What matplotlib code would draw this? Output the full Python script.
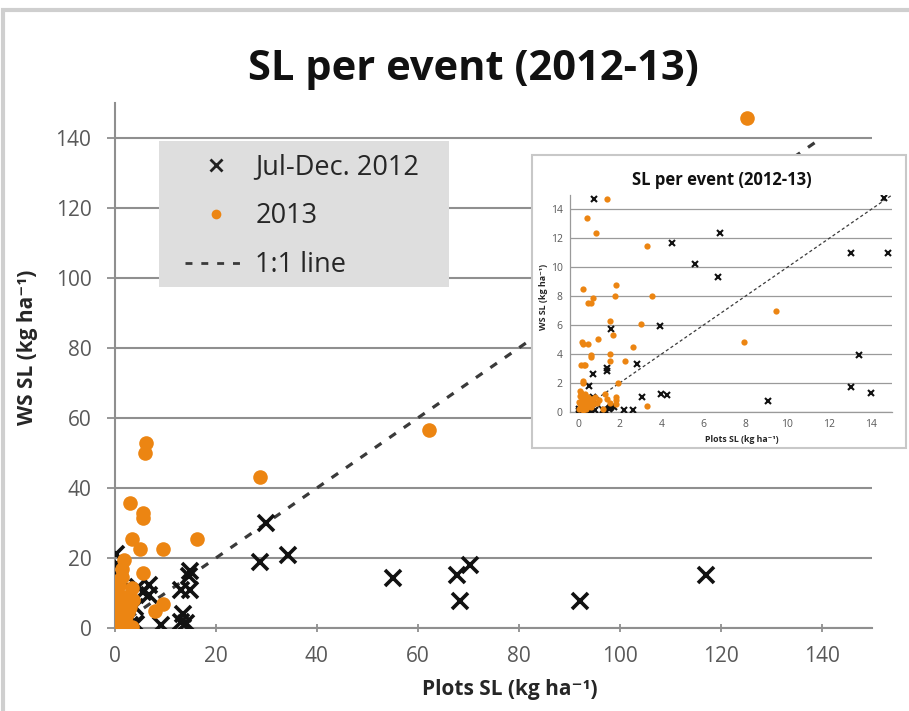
import matplotlib.pyplot as plt
from matplotlib.lines import Line2D
from matplotlib.patches import Rectangle

plt.rcParams['font.family'] = ['Open Sans', 'DejaVu Sans']

# Sediment load per event: plots (x) vs watershed (y), kg/ha
x_2012 = [117.2, 92.1, 68.3, 67.7, 70.3, 55.0, 34.3, 29.9, 28.7, 14.9, 0.2, 0.4,
          0.75, 14.6, 6.8, 4.5, 5.6, 6.7, 13.05, 14.8, 3.9, 1.6, 13.4, 2.8, 1.4, 1.4,
          0.7, 0.55, 13.05, 14.0, 3.95, 4.25, 3.05, 9.1, 0.7, 0.6, 0.9, 2.2, 2.65,
          1.6, 1.55, 1.5, 1.7, 1.2, 1.3, 0.05, 0.1, 0.15, 0.2, 0.3, 0.4, 0.5, 0.6,
          0.8, 0.05, 0.1, 0.25, 0.35]
y_2012 = [15.1, 7.7, 7.7, 15.1, 18.0, 14.3, 20.9, 30.0, 18.9, 16.3, 21.2, 18.3,
          14.7, 14.8, 12.4, 11.7, 10.2, 9.3, 11.0, 11.0, 5.9, 5.7, 3.9, 3.3, 3.0, 2.85,
          2.6, 1.8, 1.7, 1.3, 1.2, 1.15, 1.0, 0.75, 1.0, 0.8, 0.5, 0.1, 0.1,
          0.3, 0.25, 0.2, 0.35, 0.15, 0.1, 0.05, 0.1, 0.05, 0.15, 0.05, 0.1, 0.2, 0.05,
          0.15, 0.2, 0.0, 0.3, 0.2]

x_2013 = [125.3, 62.2, 28.7, 6.1, 6.0, 3.0, 5.5, 5.5, 3.4, 5.0, 9.5, 16.3, 1.8, 1.4,
          5.5, 1.4, 0.45, 0.85, 3.3, 0.25, 1.8, 0.7, 1.75, 3.55, 0.5, 0.6, 1.55, 3.0,
          1.65, 0.95, 0.2, 0.25, 0.5, 7.95, 9.45, 2.65, 1.55, 0.6, 0.6, 0.15, 0.3,
          0.35, 1.55, 2.25, 0.25, 0.25, 1.9, 1.3, 1.4, 3.3, 1.8, 1.8, 1.8, 1.55, 1.2,
          1.0, 0.9, 0.1, 0.15, 0.1, 0.2, 0.3, 0.5, 0.6, 0.7, 0.8, 0.4, 0.2, 0.1, 0.3,
          0.5, 0.6, 0.15, 0.05, 0.25, 0.4, 0.7, 0.35, 0.2, 0.05, 0.45, 0.55]
y_2013 = [145.7, 56.6, 43.1, 52.9, 50.0, 35.6, 32.8, 31.5, 25.3, 22.5, 22.5, 25.3, 19.4,
          17.0, 15.7, 14.7, 13.4, 12.4, 11.5, 8.5, 8.8, 7.9, 8.0, 8.0, 7.5, 7.5, 6.3, 6.1,
          5.3, 5.0, 4.8, 4.7, 4.7, 4.8, 7.0, 4.5, 4.0, 3.9, 3.8, 3.2, 3.2,
          3.2, 3.5, 3.5, 2.1, 2.0, 2.0, 1.2, 0.9, 0.4, 1.0, 0.8, 0.5, 0.6, 0.2,
          0.8, 0.6, 1.4, 1.3, 1.1, 0.9, 0.9, 1.0, 0.9, 0.9, 1.0, 0.7, 0.6, 0.5, 0.4,
          0.5, 0.3, 0.3, 0.2, 0.15, 0.2, 0.5, 1.2, 1.0, 0.7, 0.35, 0.7]

main_ticks = [0, 20, 40, 60, 80, 100, 120, 140]
inset_ticks = [0, 2, 4, 6, 8, 10, 12, 14]

ORANGE = '#EC8512'
GRID = '#8f8f8f'
TICKC = '#595959'
W, H = 909, 711


def px_box(x0, y0, x1, y1):
    return [x0 / W, 1 - y1 / H, (x1 - x0) / W, (y1 - y0) / H]


fig = plt.figure(figsize=(W / 100, H / 100), dpi=100)

# light outer frame of the chart area
fig.patches.append(Rectangle((3 / W, -0.05), 1.2, 1.05 - 10 / H, transform=fig.transFigure,
                             fill=False, edgecolor='#cfcfcf', lw=3, zorder=0))

# ---- main chart ----
ax = fig.add_axes(px_box(115, 103, 872, 628), zorder=1)
ax.set_xlim(0, 150)
ax.set_ylim(0, 150)
ax.set_xticks(main_ticks)
ax.set_yticks(main_ticks)
ax.tick_params(axis='y', direction='out', length=6, width=1.3, color=GRID,
               labelsize=15, labelcolor=TICKC, pad=11)
ax.tick_params(axis='x', direction='inout', length=6, width=1.3, color=GRID,
               labelsize=15, labelcolor=TICKC, pad=10)
for s in ['top', 'right']:
    ax.spines[s].set_visible(False)
for s in ['left', 'bottom']:
    ax.spines[s].set_color(GRID)
    ax.spines[s].set_linewidth(1.5)
ax.yaxis.grid(True, color=GRID, lw=1.5)
ax.set_axisbelow(True)

ax.plot([0, 140], [0, 140], ls=(0, (2.5, 3)), color='#3a3a3a', lw=2.3, zorder=2)
ax.plot(x_2012, y_2012, ls='none', marker='x', ms=11, mew=2.6, color='#111111', zorder=3)
ax.plot(x_2013, y_2013, ls='none', marker='o', ms=10.5, mew=0, color=ORANGE, zorder=4)

# legend: grey panel with the three entries on top of it
ax.add_artist(Rectangle((159 / W, 1 - 287 / H), (449 - 159) / W, (287 - 141) / H,
                        transform=fig.transFigure, facecolor='#dedede',
                        edgecolor='none', zorder=1))
handles = [
    Line2D([], [], ls='none', marker='x', ms=8, mew=2, color='#222222'),
    Line2D([], [], ls='none', marker='o', ms=7, mew=0, color=ORANGE),
    Line2D([], [], ls=(0, (2.5, 3.2)), lw=2, color='#3a3a3a'),
]
leg = ax.legend(handles, ['Jul-Dec. 2012', '2013', '1:1 line'],
                loc='upper left', bbox_to_anchor=(185 / W, 1 - 153 / H),
                bbox_transform=fig.transFigure, borderaxespad=0, borderpad=0,
                fontsize=19.5, frameon=False,
                handlelength=2.3, handletextpad=0.3, labelspacing=0.78)
for t in leg.get_texts():
    t.set_color('#262626')

fig.text(473 / W, 1 - 70 / H, 'SL per event (2012-13)', ha='center', va='center',
         fontsize=30, fontweight='bold', color='#111111')
fig.text(510 / W, 1 - 690 / H, 'Plots SL (kg ha⁻¹)', ha='center', va='center',
         fontsize=15, fontweight='bold', color='#262626')
fig.text(28 / W, 1 - 347 / H, 'WS SL (kg ha⁻¹)', ha='center', va='center',
         rotation=90, fontsize=15, fontweight='bold', color='#262626')

# ---- zoomed inset for the 0-15 range ----
fig.patches.append(Rectangle((532 / W, 1 - 448 / H), (906 - 532) / W, (448 - 155) / H,
                             transform=fig.transFigure, facecolor='white',
                             edgecolor='#c8c8c8', lw=1.5, zorder=2))
ins = fig.add_axes(px_box(569.6, 195, 892, 411.7), zorder=3)
ins.patch.set_alpha(0)
ins.set_xlim(-0.4, 15.0)
ins.set_ylim(0, 15)
ins.set_xticks(inset_ticks)
ins.set_yticks(inset_ticks)
ins.tick_params(length=0, labelsize=7.5, labelcolor=TICKC, pad=5)
for s in ['top', 'right']:
    ins.spines[s].set_visible(False)
for s in ['left', 'bottom']:
    ins.spines[s].set_color('#9a9a9a')
    ins.spines[s].set_linewidth(0.9)
ins.yaxis.grid(True, color='#9a9a9a', lw=0.9)
ins.set_axisbelow(True)

ins.plot([0, 15], [0, 15], ls=(0, (2.5, 2)), color='#3a3a3a', lw=0.9, zorder=2)
ins.plot(x_2012, y_2012, ls='none', marker='x', ms=5, mew=1.5, color='#111111', zorder=3)
ins.plot(x_2013, y_2013, ls='none', marker='o', ms=4.5, mew=0, color=ORANGE, zorder=4)

fig.text(722 / W, 1 - 180 / H, 'SL per event (2012-13)', ha='center', va='center',
         fontsize=12, fontweight='bold', color='#111111', zorder=4)
fig.text(742 / W, 1 - 440 / H, 'Plots SL (kg ha⁻¹)', ha='center', va='center',
         fontsize=6.3, fontweight='bold', color='#262626', zorder=4)
fig.text(543 / W, 1 - 297 / H, 'WS SL (kg ha⁻¹)', ha='center', va='center',
         rotation=90, fontsize=6.4, fontweight='bold', color='#262626', zorder=4)

fig.savefig('out.png', dpi=100)
